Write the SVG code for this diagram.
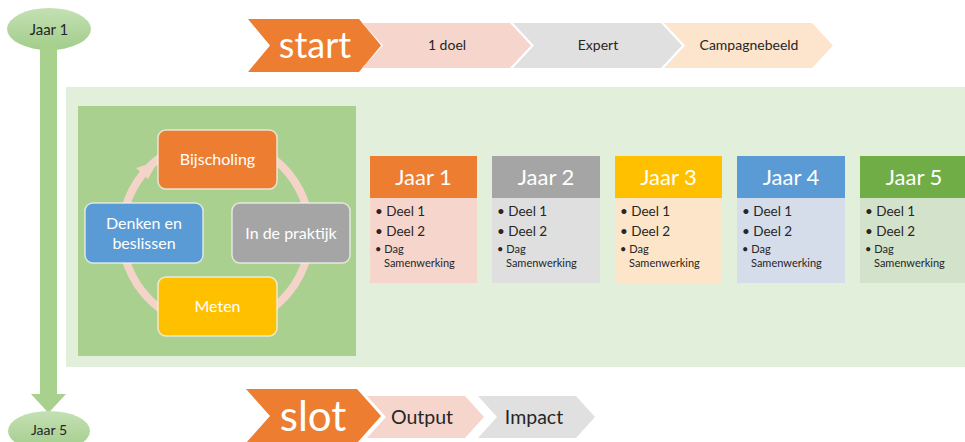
<svg xmlns="http://www.w3.org/2000/svg" width="965" height="442" viewBox="0 0 965 442">
<style>
text{font-family:Lato,"Open Sans","Liberation Sans",sans-serif;}
.dk{fill:#262626;}
.wh{fill:#ffffff;}
.c{text-anchor:middle;}
.box{stroke:#f3f3f3;stroke-width:1.5;stroke-opacity:0.8;}
.hd{font-size:22px;}
.b1{font-size:13.5px;}
.b2{font-size:11px;}
</style>
<defs>
<linearGradient id="eg" x1="0" y1="0" x2="0" y2="1">
<stop offset="0" stop-color="#c4e0b4"/>
<stop offset="1" stop-color="#a2cd8a"/>
</linearGradient>
</defs>
<rect width="965" height="442" fill="#ffffff"/>

<g id="panel">
<rect x="66" y="87" width="899" height="280" fill="#e2efda"/>
<rect x="78" y="106" width="278" height="250" fill="#a9d08e"/>
</g>

<g id="timeline">
<g id="jaar1-top">
<ellipse cx="49" cy="29" rx="42" ry="21" fill="url(#eg)"/>
<text x="49" y="35" class="dk c" font-size="15">Jaar 1</text>
</g>
<g id="timeline-arrow">
<rect x="40" y="44" width="17" height="351" fill="#a9d18e"/>
<polygon points="31,394 66,394 48.5,413" fill="#a9d18e"/>
</g>
<g id="jaar5-bottom">
<ellipse cx="49" cy="431" rx="41" ry="20" fill="url(#eg)"/>
<text x="49" y="435" class="dk c" font-size="14">Jaar 5</text>
</g>
</g>

<g id="start-row">
<g id="start"><polygon points="248,19 359,19 381,45.5 359,72 248,72 270,45.5" fill="#ed7d31"/>
<text x="315" y="58" class="wh c" font-size="36">start</text></g>
<g id="doel"><polygon points="362,23 510,23 531,45.5 510,68 362,68 383,45.5" fill="#f6d5cd"/>
<text x="447" y="50" class="dk c" font-size="14">1 doel</text></g>
<g id="expert"><polygon points="513,23 661,23 682,45.5 661,68 513,68 534,45.5" fill="#e0e0e0"/>
<text x="598" y="50" class="dk c" font-size="14">Expert</text></g>
<g id="campagne"><polygon points="664,23 812,23 833,45.5 812,68 664,68 685,45.5" fill="#fde4cc"/>
<text x="749" y="50" class="dk c" font-size="14">Campagnebeeld</text></g>
</g>

<g id="slot-row">
<g id="slot"><polygon points="246,389 357,389 381,416 357,443 246,443 270,416" fill="#ed7d31"/>
<text x="313" y="431" class="wh c" font-size="42">slot</text></g>
<g id="output"><polygon points="367,396 465,396 484,417 465,438 367,438 386,417" fill="#f6d5cd"/>
<text x="422" y="424" class="dk c" font-size="19.5">Output</text></g>
<g id="impact"><polygon points="478,396 576,396 595,417 576,438 478,438 497,417" fill="#e0e0e0"/>
<text x="534" y="424" class="dk c" font-size="19.5">Impact</text></g>
</g>

<g id="cycle">
<g id="connectors">
<circle cx="216" cy="233" r="94" fill="none" stroke="#f4d3c9" stroke-width="8"/>
<polygon points="158,161 136,168 148,179" fill="#f4d3c9"/>
</g>
<g id="bijscholing"><rect x="158" y="130" width="119" height="59" rx="8" fill="#ed7d31" class="box"/>
<text x="217.5" y="165" class="wh c" font-size="16">Bijscholing</text></g>
<g id="praktijk"><rect x="232" y="203" width="118" height="60" rx="8" fill="#a5a5a5" class="box"/>
<text x="291" y="239" class="wh c" font-size="16">In de praktijk</text></g>
<g id="meten"><rect x="158" y="277" width="119" height="59" rx="8" fill="#ffc000" class="box"/>
<text x="217.5" y="312" class="wh c" font-size="16">Meten</text></g>
<g id="denken"><rect x="85" y="203" width="118" height="60" rx="8" fill="#5b9bd5" class="box"/>
<text x="144" y="229" class="wh c" font-size="16">Denken en</text>
<text x="144" y="249" class="wh c" font-size="16">beslissen</text></g>
</g>

<g id="card1">
<rect x="370" y="156" width="107" height="127" fill="#f6d5cc"/>
<rect x="370" y="156" width="107" height="42" fill="#ed7d31"/>
<text x="423.5" y="185" class="wh c hd">Jaar 1</text>
<text x="375" y="216" class="dk b1">• Deel 1</text>
<text x="375" y="236" class="dk b1">• Deel 2</text>
<text x="375" y="253" class="dk b2">• Dag</text>
<text x="384" y="267" class="dk b2">Samenwerking</text>
</g>
<g id="card2">
<rect x="492" y="156" width="108" height="127" fill="#dfdfdf"/>
<rect x="492" y="156" width="108" height="42" fill="#a5a5a5"/>
<text x="546" y="185" class="wh c hd">Jaar 2</text>
<text x="497" y="216" class="dk b1">• Deel 1</text>
<text x="497" y="236" class="dk b1">• Deel 2</text>
<text x="497" y="253" class="dk b2">• Dag</text>
<text x="506" y="267" class="dk b2">Samenwerking</text>
</g>
<g id="card3">
<rect x="615" y="156" width="107" height="127" fill="#fce5c8"/>
<rect x="615" y="156" width="107" height="42" fill="#ffc000"/>
<text x="668.5" y="185" class="wh c hd">Jaar 3</text>
<text x="620" y="216" class="dk b1">• Deel 1</text>
<text x="620" y="236" class="dk b1">• Deel 2</text>
<text x="620" y="253" class="dk b2">• Dag</text>
<text x="629" y="267" class="dk b2">Samenwerking</text>
</g>
<g id="card4">
<rect x="737" y="156" width="108" height="127" fill="#d5dcea"/>
<rect x="737" y="156" width="108" height="42" fill="#5b9bd5"/>
<text x="791" y="185" class="wh c hd">Jaar 4</text>
<text x="742" y="216" class="dk b1">• Deel 1</text>
<text x="742" y="236" class="dk b1">• Deel 2</text>
<text x="742" y="253" class="dk b2">• Dag</text>
<text x="751" y="267" class="dk b2">Samenwerking</text>
</g>
<g id="card5">
<rect x="860" y="156" width="108" height="127" fill="#d3e2cb"/>
<rect x="860" y="156" width="108" height="42" fill="#70ad47"/>
<text x="914" y="185" class="wh c hd">Jaar 5</text>
<text x="865" y="216" class="dk b1">• Deel 1</text>
<text x="865" y="236" class="dk b1">• Deel 2</text>
<text x="865" y="253" class="dk b2">• Dag</text>
<text x="874" y="267" class="dk b2">Samenwerking</text>
</g>
</svg>
